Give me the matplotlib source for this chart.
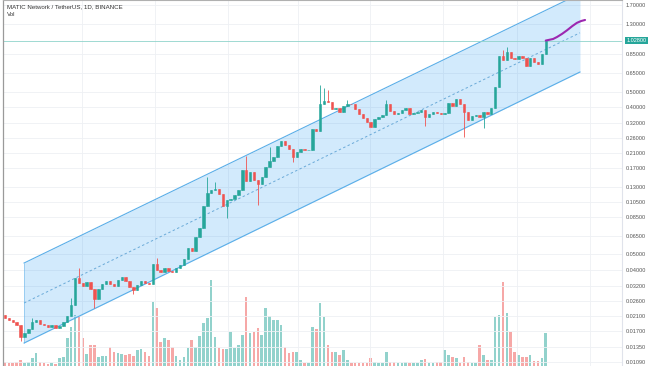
import matplotlib
matplotlib.use("Agg")
import matplotlib.pyplot as plt
from matplotlib.transforms import blended_transform_factory

# ---------------- data ----------------
title = "MATIC Network / TetherUS, 1D, BINANCE"
first_open = 0.02119
closes = [
    0.02031, 0.01975, 0.01920, 0.01840, 0.01552, 0.01643, 0.01739, 0.01920, 0.01975, 0.01866,
    0.01840, 0.01789, 0.01840, 0.01764, 0.01814, 0.01920, 0.02089, 0.02441, 0.03576, 0.03331,
    0.03193, 0.03379, 0.03061, 0.02657, 0.03061, 0.03285, 0.03427, 0.03285, 0.03193, 0.03476,
    0.03627, 0.03427, 0.03148, 0.03018, 0.03239, 0.03427, 0.03331, 0.03285, 0.04359, 0.04005,
    0.03893, 0.04120, 0.03949, 0.03893, 0.04120, 0.04298, 0.04679, 0.05466, 0.05239, 0.06386,
    0.07253, 0.09893, 0.1189, 0.1241, 0.1259, 0.1173, 0.09893, 0.1077, 0.1092, 0.1156,
    0.1241, 0.1647, 0.1410, 0.1601, 0.1430, 0.1351, 0.1492, 0.1718, 0.1870, 0.1979,
    0.2313, 0.2482, 0.2346, 0.2217, 0.1979, 0.2125, 0.2217, 0.2186, 0.2200, 0.2941,
    0.2859, 0.4189, 0.4371, 0.4309, 0.3903, 0.3958, 0.3741, 0.4072, 0.4189, 0.4170,
    0.3903, 0.3636, 0.3437, 0.3248, 0.3026, 0.3389, 0.3486, 0.3585, 0.4189, 0.3794,
    0.3636, 0.3688, 0.3848, 0.3958, 0.3636, 0.3688, 0.3741, 0.3848, 0.3486, 0.3636,
    0.3741, 0.3688, 0.3636, 0.3688, 0.4249, 0.4072, 0.4496, 0.4189, 0.3741, 0.3341,
    0.3535, 0.3585, 0.3486, 0.3741, 0.3636, 0.3958, 0.5328, 0.8261, 0.7807, 0.8743,
    0.8032, 0.7919, 0.8261, 0.8032, 0.7172, 0.8032, 0.7589, 0.7378, 0.8499, 1.0280,
]
volumes = [
    4, 3, 3, 4, 6, 3, 4, 8, 13, 4,
    3, 2, 3, 2, 8, 9, 28, 39, 51, 49,
    28, 12, 21, 21, 9, 10, 10, 19, 14, 13,
    12, 11, 12, 10, 16, 17, 14, 10, 64, 58,
    24, 28, 26, 19, 10, 6, 9, 18, 26, 19,
    30, 43, 48, 86, 29, 18, 17, 17, 34, 18,
    21, 31, 69, 33, 34, 38, 31, 58, 50, 46,
    46, 41, 19, 13, 14, 14, 6, 3, 3, 39,
    37, 63, 49, 21, 14, 14, 11, 16, 6, 3,
    3, 3, 3, 3, 8, 4, 3, 3, 14, 4,
    4, 3, 3, 4, 3, 3, 3, 6, 7, 3,
    3, 4, 4, 16, 11, 9, 8, 3, 9, 4,
    3, 3, 21, 11, 6, 6, 49, 51, 84, 53,
    34, 14, 11, 9, 9, 11, 5, 5, 8, 33,
]
wick_highs = {7: 0.02031, 17: 0.02695, 19: 0.04120, 39: 0.04745, 52: 0.1492, 54: 0.1390,
              62: 0.2007, 68: 0.2281, 81: 0.5481, 82: 0.5254, 83: 0.5107, 88: 0.4433,
              98: 0.4433, 128: 0.8994, 129: 0.9384}
wick_lows = {4: 0.01467, 23: 0.02340, 33: 0.02852, 57: 0.08357, 65: 0.1003, 74: 0.1844,
             108: 0.3069, 118: 0.2627, 123: 0.2983}

channel_idx = [4.9, 147.8]
channel_mid = [0.02511, 1.147]
channel_upper = [0.04421, 1.994]
channel_lower = [0.01426, 0.6588]

forecast_idx = [139, 140.9, 141.9, 143.2, 144.5, 145.8, 147.0, 148.1, 149.1]
forecast_price = [1.028, 1.051, 1.081, 1.13, 1.19, 1.26, 1.32, 1.355, 1.375]

last_price = 1.028
price_ticks = [1.7, 1.3, 0.85, 0.65, 0.5, 0.4, 0.32, 0.26, 0.21, 0.17, 0.13, 0.105,
               0.085, 0.065, 0.05, 0.04, 0.032, 0.026, 0.021, 0.017, 0.0135, 0.0109]
vgrid_idx = [19.8, 38.6, 57.3, 75.3, 93.8, 112.6, 131.6, 150.4]

# ---------------- style ----------------
UP = "#26a69a"
DOWN = "#ef5350"
FONT = ["Liberation Sans", "DejaVu Sans"]

W, H = 654, 366
fig = plt.figure(figsize=(W / 100, H / 100), dpi=100)
rect = [3 / W, 0, 619 / W, 1]

axv = fig.add_axes(rect)
ax = fig.add_axes(rect, sharex=axv)
ax.patch.set_visible(False)

n = len(closes)
idx = list(range(n))
opens = [first_open] + closes[:-1]
colors = [UP if c >= o else DOWN for o, c in zip(opens, closes)]

# volume pane
axv.bar(idx, volumes, width=0.66, color=colors, alpha=0.5, linewidth=0)
axv.set_ylim(0, max(volumes) / 0.235)
axv.axis("off")

# price pane
ax.set_yscale("log")
ax.set_ylim(0.010302, 1.824)
ax.set_xlim(-0.514, 158.6)

ax.set_yticks(price_ticks)
ax.set_yticklabels([f"{t:.5f}" for t in price_ticks])
ax.yaxis.set_minor_locator(matplotlib.ticker.NullLocator())
ax.yaxis.tick_right()
ax.tick_params(axis="y", length=0, pad=2.5, labelsize=4, labelcolor="#555555")
for lab in ax.get_yticklabels():
    lab.set_family(FONT)
ax.set_xticks(vgrid_idx)
ax.tick_params(axis="x", length=0, labelbottom=False)
ax.grid(True, color="#eef0f4", linewidth=0.6, zorder=0)
ax.set_axisbelow(True)

for s in ["bottom"]:
    ax.spines[s].set_visible(False)
ax.spines["left"].set_color("#9a9a9a")
ax.spines["left"].set_linewidth(0.9)
ax.spines["top"].set_color("#b0b0b0")
ax.spines["top"].set_linewidth(0.8)
ax.spines["right"].set_color("#e0e3eb")
ax.spines["right"].set_linewidth(0.8)

# regression channel
ax.fill_between(channel_idx, channel_lower, channel_upper, color="#2196f3", alpha=0.2,
                linewidth=0, zorder=1)
ax.plot(channel_idx, channel_upper, color="#5aaee8", lw=0.8, zorder=2)
ax.plot(channel_idx, channel_lower, color="#5aaee8", lw=0.8, zorder=2)
ax.plot(channel_idx, channel_mid, color="#6aaad8", lw=0.7, ls=(0, (2.5, 2.5)), zorder=2)
ax.vlines(channel_idx[0], channel_lower[0], channel_upper[0], color="#5aaee8", lw=0.4, zorder=2)

# last price line
ax.axhline(last_price, color="#8fd3cb", lw=0.6, zorder=2)

# candles
highs = [wick_highs.get(i, max(o, c)) for i, (o, c) in enumerate(zip(opens, closes))]
lows = [wick_lows.get(i, min(o, c)) for i, (o, c) in enumerate(zip(opens, closes))]
ax.vlines(idx, lows, highs, colors=colors, lw=0.6, zorder=3)
bottoms = [min(o, c) for o, c in zip(opens, closes)]
heights = [abs(c - o) for o, c in zip(opens, closes)]
ax.bar(idx, heights, bottom=bottoms, width=0.62, color=colors, edgecolor=colors,
       linewidth=0.4, zorder=4)

# forecast path
ax.plot(forecast_idx, forecast_price, color="#9c27b0", lw=1.5, zorder=5,
        solid_capstyle="round")

# last price label
tr = blended_transform_factory(ax.transAxes, ax.transData)
ax.text(1.0 + 4.5 / 619, last_price, f"{last_price:.5f}", transform=tr, ha="left",
        va="center", fontsize=4, color="white", family=FONT,
        bbox=dict(boxstyle="square,pad=0.25", facecolor="#26a69a", edgecolor="none"))

# header texts
fig.text(7 / W, 1 - 7 / H, title, fontsize=4.4, color="#333333", va="center",
         ha="left", family=FONT)
fig.text(7 / W, 1 - 15 / H, "Vol", fontsize=4.4, color="#333333", va="center",
         ha="left", family=FONT)

fig.savefig("out.png", dpi=100)
